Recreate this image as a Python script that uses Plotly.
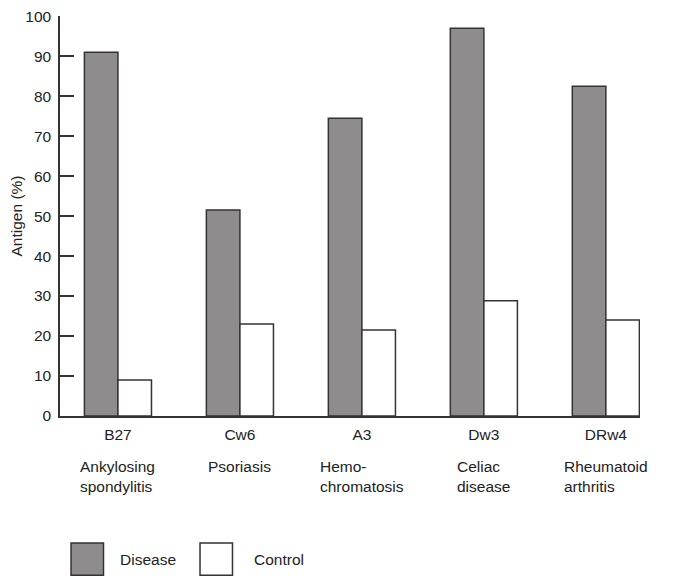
import plotly.graph_objects as go

antigens = ["B27", "Cw6", "A3", "Dw3", "DRw4"]
diseases = ["Ankylosing<br>spondylitis", "Psoriasis", "Hemo-<br>chromatosis", "Celiac<br>disease", "Rheumatoid<br>arthritis"]
disease_pct = [91, 51.5, 74.5, 97, 82.5]
control_pct = [9, 23, 21.5, 28.8, 24]
y_ticks = [0, 10, 20, 30, 40, 50, 60, 70, 80, 90, 100]

FONT = "Liberation Sans, Arial, sans-serif"
INK = "#222222"
GRAY = "#8e8c8d"
EDGE = "#333333"
FS = 15.5

fig = go.Figure()
fig.add_trace(go.Bar(x=antigens, y=disease_pct, name="Disease",
                     marker=dict(color=GRAY, line=dict(color=EDGE, width=1.5))))
fig.add_trace(go.Bar(x=antigens, y=control_pct, name="Control",
                     marker=dict(color="white", line=dict(color=EDGE, width=1.5))))

for a, d in zip(antigens, diseases):
    fig.add_annotation(x=a, xref="x", y=0, yref="paper", yanchor="top", yshift=-40,
                       text=d, showarrow=False, align="left", xanchor="center",
                       font=dict(family=FONT, size=FS, color=INK))

# legend drawn as boxes + labels
legend_items = [("Disease", GRAY, 0.019, 0.1), ("Control", "white", 0.2414, 0.331)]
for name, col, bx, tx in legend_items:
    fig.add_shape(type="rect", xref="paper", yref="paper",
                  x0=bx, x1=bx + 0.056, y0=-0.3175, y1=-0.398,
                  fillcolor=col, line=dict(color=EDGE, width=1.5))
    fig.add_annotation(x=tx, y=-0.359, xref="paper", yref="paper", text=name,
                       showarrow=False, xanchor="left", yanchor="middle",
                       font=dict(family=FONT, size=FS, color=INK))

fig.update_layout(
    width=677, height=569,
    margin=dict(l=52, r=45, t=8, b=161),
    paper_bgcolor="white", plot_bgcolor="white",
    barmode="group", bargap=0.45, bargroupgap=0,
    showlegend=False,
    font=dict(family=FONT, size=FS, color=INK),
    xaxis=dict(range=[-0.475, 4.28], showline=True, linecolor=EDGE, linewidth=1.5,
               showgrid=False, zeroline=False, ticks="", tickfont=dict(size=FS),
               ticklabelstandoff=4, automargin=False),
    yaxis=dict(range=[0, 100.05], tickvals=y_ticks, showline=True, linecolor=EDGE,
               linewidth=1.5, showgrid=False, zeroline=False, ticks="inside",
               ticklen=14, tickwidth=1.5, tickcolor=EDGE, automargin=False,
               ticklabelstandoff=4, ticklabeloverflow="allow",
               title=dict(text="Antigen (%)", font=dict(size=FS), standoff=19),
               tickfont=dict(size=FS)),
)

fig.write_html("out.html")
